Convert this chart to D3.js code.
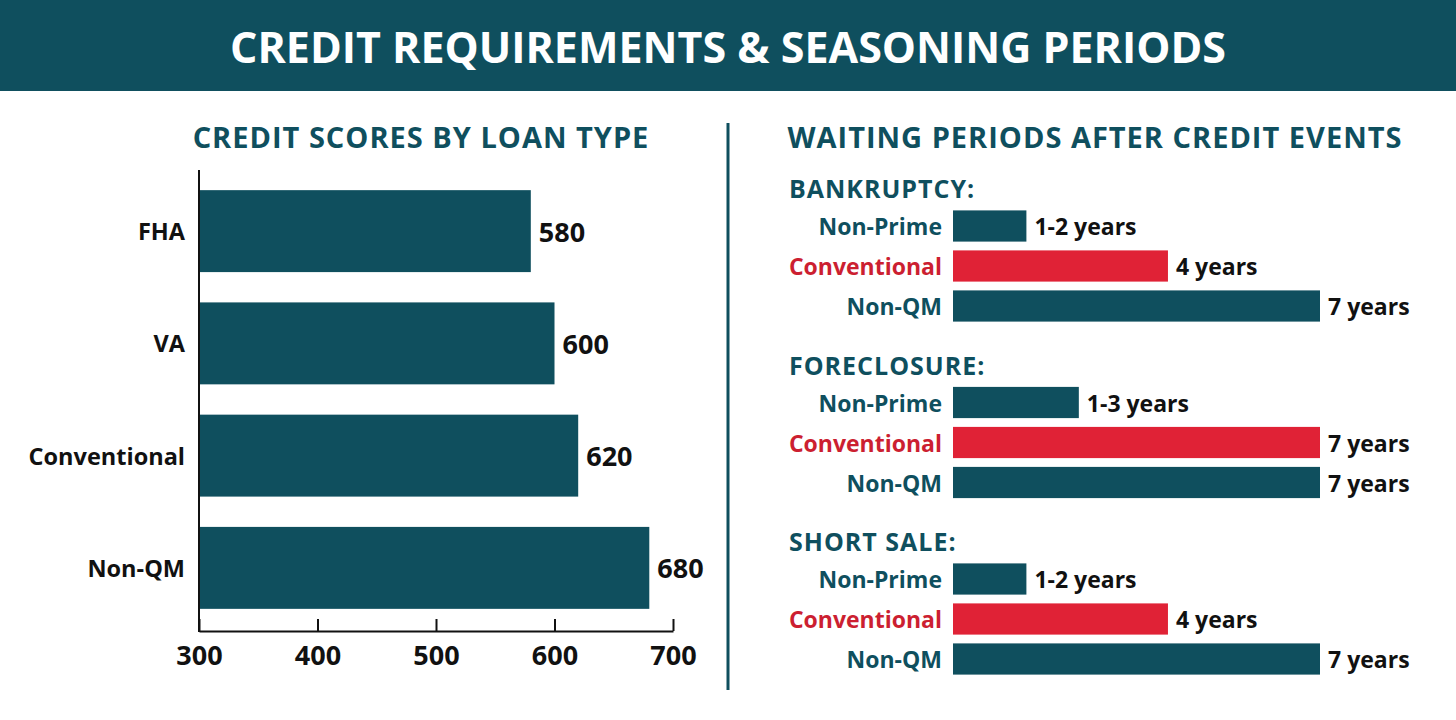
<!DOCTYPE html>
<html>
<head>
<meta charset="utf-8">
<script src="https://cdn.jsdelivr.net/npm/d3@7/dist/d3.min.js"></script>
<style>
  html, body { margin: 0; padding: 0; background: #ffffff; }
  svg { display: block; }
  text { font-family: "Open Sans", "Noto Sans", sans-serif; font-weight: 700; }
</style>
</head>
<body>
<script>
// ---------- DATA ----------
const titleText = "CREDIT REQUIREMENTS & SEASONING PERIODS";
const leftTitle = "CREDIT SCORES BY LOAN TYPE";
const rightTitle = "WAITING PERIODS AFTER CREDIT EVENTS";

const loanTypes = ["FHA", "VA", "Conventional", "Non-QM"];
const creditScores = [580, 600, 620, 680];
const scoreTicks = [300, 400, 500, 600, 700];

const eventGroups = ["BANKRUPTCY:", "FORECLOSURE:", "SHORT SALE:"];
const loanPrograms = ["Non-Prime", "Conventional", "Non-QM"];
// bar lengths in years (ranges)
const bankruptcyYears = [1.4, 4.1, 7];
const foreclosureYears = [2.4, 7, 7];
const shortSaleYears = [1.4, 4.1, 7];
const bankruptcyLabels = ["1-2 years", "4 years", "7 years"];
const foreclosureLabels = ["1-3 years", "7 years", "7 years"];
const shortSaleLabels = ["1-2 years", "4 years", "7 years"];

// ---------- STYLE ----------
const TEAL = "#0f4f5e";
const RED = "#e02236";
const RED_TEXT = "#cc1f31";
const W = 1456, H = 720;

const svg = d3.select("body").append("svg").attr("width", W).attr("height", H);

// Banner
svg.append("rect").attr("x", 0).attr("y", 0).attr("width", W).attr("height", 91).attr("fill", TEAL);
svg.append("text").attr("x", 728).attr("y", 46).attr("text-anchor", "middle")
  .attr("dominant-baseline", "central").attr("fill", "#ffffff")
  .style("font-size", "43px").text(titleText);

// ---------- LEFT CHART ----------
const x = d3.scaleLinear().domain([300, 700]).range([199, 673]);
const y = d3.scaleBand().domain(loanTypes).range([175, 624]).paddingInner(0.27).paddingOuter(0.135);

svg.append("text").attr("x", 421).attr("y", 136).attr("text-anchor", "middle")
  .attr("dominant-baseline", "central").attr("fill", TEAL)
  .style("font-size", "29px").style("letter-spacing", "1px").text(leftTitle);

const leftData = loanTypes.map((t, i) => ({ t, v: creditScores[i] }));

svg.append("g").selectAll("rect").data(leftData).join("rect")
  .attr("x", x(300)).attr("y", d => y(d.t))
  .attr("width", d => x(d.v) - x(300)).attr("height", y.bandwidth())
  .attr("fill", TEAL);

svg.append("g").selectAll("text").data(leftData).join("text")
  .attr("x", 185).attr("y", d => y(d.t) + y.bandwidth() / 2)
  .attr("text-anchor", "end").attr("dominant-baseline", "central")
  .attr("fill", "#111").style("font-size", "23.5px").text(d => d.t);

svg.append("g").selectAll("text").data(leftData).join("text")
  .attr("x", d => x(d.v) + 8).attr("y", d => y(d.t) + y.bandwidth() / 2)
  .attr("dominant-baseline", "central")
  .attr("fill", "#111").style("font-size", "27px").text(d => d.v);

// y axis line
svg.append("line").attr("x1", 199).attr("x2", 199).attr("y1", 170).attr("y2", 632)
  .attr("stroke", "#111").attr("stroke-width", 2);

// x axis
const xAxis = d3.axisBottom(x).tickValues(scoreTicks).tickSizeInner(-12).tickSizeOuter(0).tickPadding(15);
const gx = svg.append("g").attr("transform", "translate(0,631)").call(xAxis);
gx.select(".domain").attr("stroke", "#111").attr("stroke-width", 2);
gx.selectAll(".tick line").attr("stroke", "#111").attr("stroke-width", 2);
gx.selectAll(".tick text").attr("fill", "#111").style("font-size", "27px")
  .style("font-family", "'Open Sans', sans-serif").style("font-weight", 700);

// divider
svg.append("line").attr("x1", 728).attr("x2", 728).attr("y1", 123).attr("y2", 690)
  .attr("stroke", TEAL).attr("stroke-width", 3);

// ---------- RIGHT CHART ----------
svg.append("text").attr("x", 1095).attr("y", 136).attr("text-anchor", "middle")
  .attr("dominant-baseline", "central").attr("fill", TEAL)
  .style("font-size", "29px").style("letter-spacing", "1px").text(rightTitle);

const groupYears = [bankruptcyYears, foreclosureYears, shortSaleYears];
const groupLabels = [bankruptcyLabels, foreclosureLabels, shortSaleLabels];

const gy = d3.scaleBand().domain(eventGroups).range([170, 699.5]);
const xr = d3.scaleLinear().domain([0, 7]).range([953, 1320]);

eventGroups.forEach((g, gi) => {
  const y0 = gy(g);
  const grp = svg.append("g");
  grp.append("text").attr("x", 789).attr("y", y0 + 18)
    .attr("dominant-baseline", "central").attr("fill", TEAL)
    .style("font-size", "25px").style("letter-spacing", "1px").text(g);

  const ry = d3.scaleBand().domain(loanPrograms).range([y0 + 36, y0 + 156])
    .paddingInner(0.22).paddingOuter(0.11);
  const rows = loanPrograms.map((p, i) => ({ p, v: groupYears[gi][i], lab: groupLabels[gi][i] }));

  grp.selectAll("rect").data(rows).join("rect")
    .attr("x", xr(0)).attr("y", d => ry(d.p))
    .attr("width", d => xr(d.v) - xr(0)).attr("height", ry.bandwidth())
    .attr("fill", d => d.p === "Conventional" ? RED : TEAL);

  grp.selectAll("text.rl").data(rows).join("text").attr("class", "rl")
    .attr("x", 942).attr("y", d => ry(d.p) + ry.bandwidth() / 2)
    .attr("text-anchor", "end").attr("dominant-baseline", "central")
    .attr("fill", d => d.p === "Conventional" ? RED_TEXT : TEAL)
    .style("font-size", "23px").text(d => d.p);

  grp.selectAll("text.vl").data(rows).join("text").attr("class", "vl")
    .attr("x", d => xr(d.v) + 8).attr("y", d => ry(d.p) + ry.bandwidth() / 2)
    .attr("dominant-baseline", "central")
    .attr("fill", "#111").style("font-size", "23px").text(d => d.lab);
});
</script>
</body>
</html>
